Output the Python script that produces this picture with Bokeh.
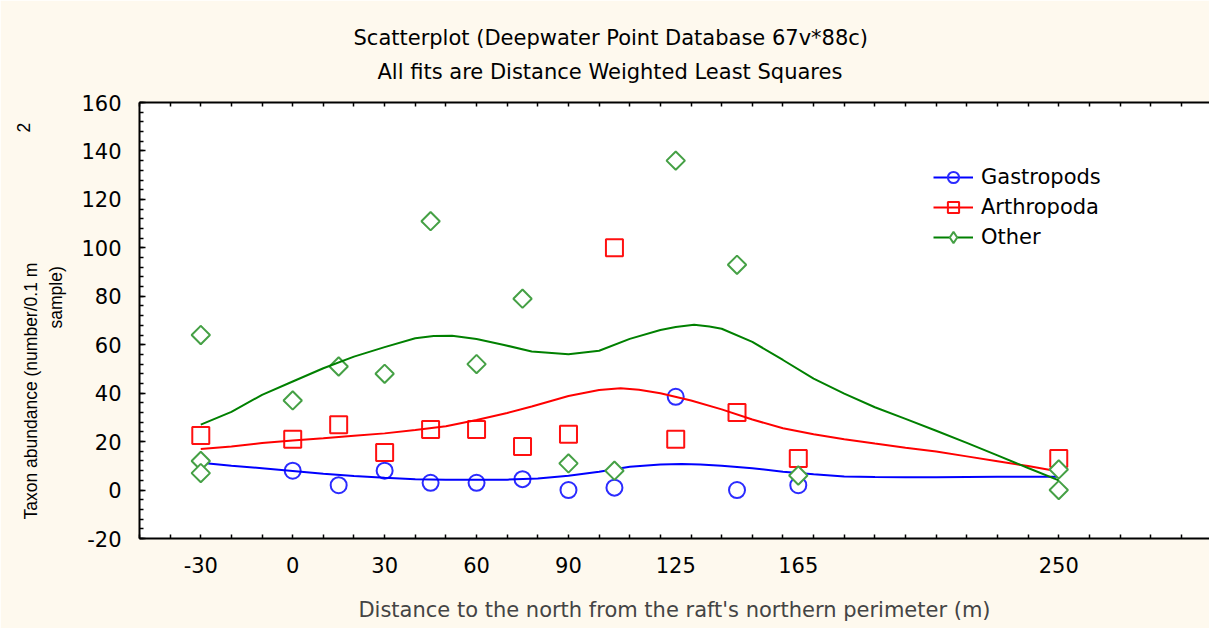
import numpy as np
from bokeh.plotting import figure
from bokeh.models import Range1d, LinearAxis, FixedTicker, Title, Legend, LegendItem
from bokeh.embed import file_html
from bokeh.resources import INLINE

# ---- observations -------------------------------------------------------
gastro_x = [0, 15, 30, 45, 60, 75, 90, 105, 125, 145, 165]
gastro_y = [8, 2, 8, 3, 3, 4.5, 0, 1, 38.5, 0, 2]

arthro_x = [-30, 0, 15, 30, 45, 60, 75, 90, 105, 125, 145, 165, 250]
arthro_y = [22.5, 21, 27, 15.5, 25, 25, 18, 23, 100, 21, 32, 13, 13]

other_x = [-30, -30, -30, 0, 15, 30, 45, 60, 75, 90, 105, 125, 145, 165, 250, 250]
other_y = [64, 12, 7, 37, 51, 48, 111, 52, 79, 11, 8, 136, 93, 6, 8.5, 0]

# ---- distance weighted least squares fits (sampled along x) --------------
gastro_fit_x = [-30, -20, -10, 0, 10, 20, 30, 40, 50, 60, 70, 80, 90, 100, 110,
                120, 127, 133, 140, 150, 160, 170, 180, 190, 200, 210, 220, 230, 240, 250]
gastro_fit_y = [11.3, 10.0, 9.0, 7.9, 6.7, 5.8, 5.1, 4.5, 4.3, 4.3, 4.3, 4.8, 5.9, 7.6, 9.6,
                10.5, 10.8, 10.6, 10.0, 9.0, 7.6, 6.5, 5.6, 5.4, 5.3, 5.3, 5.4, 5.5, 5.5, 5.5]

arthro_fit_x = [-30, -20, -10, 0, 10, 20, 30, 40, 50, 60, 70, 78, 90, 100, 107, 113,
                120, 130, 140, 150, 160, 170, 180, 190, 200, 210, 220, 230, 240, 250]
arthro_fit_y = [16.9, 18.0, 19.4, 20.5, 21.4, 22.4, 23.4, 24.8, 26.3, 28.9, 31.8, 34.5, 38.8, 41.3, 42.0, 41.4,
                40.0, 37.0, 33.3, 29.1, 25.5, 23.0, 21.0, 19.2, 17.5, 15.9, 13.9, 11.9, 9.9, 7.7]

other_fit_x = [-30, -20, -10, 0, 10, 20, 30, 40, 46, 52, 60, 69, 78, 90, 100, 110,
               120, 125, 131, 136, 140, 150, 160, 170, 180, 190, 200, 210, 220, 230, 240, 250]
other_fit_y = [27.0, 32.3, 39.3, 44.8, 50.3, 55.1, 59.0, 62.7, 63.6, 63.7, 62.4, 59.9, 57.2, 56.1, 57.5, 62.4,
               66.1, 67.3, 68.2, 67.5, 66.6, 61.2, 53.7, 46.0, 39.8, 34.2, 29.4, 24.5, 19.5, 14.3, 9.1, 4.0]

x_tick_labels = [-30, 0, 30, 60, 90, 125, 165, 250]
x_grid = [0, 50, 100, 150, 200, 250]
x_minor = list(range(-50, 300, 10))
y_ticks = list(range(-20, 161, 20))
y_minor = list(range(-20, 161, 4))

series_names = ["Gastropods", "Arthropoda", "Other"]

title_1 = "Scatterplot (Deepwater Point Database 67v*88c)"
title_2 = "All fits are Distance Weighted Least Squares"
x_title = "Distance to the north from the raft's northern perimeter (m)"
y_title_1 = "Taxon abundance (number/0.1 m"
y_title_exp = "2"
y_title_2 = "sample)"

# ---- styling -----------------------------------------------------------
CREAM = "#FEF9EE"
FONT = "DejaVu Sans"
FS = "21px"
YF = "Liberation Sans"
YFS = "17.5px"

p = figure(width=1209, height=628, output_backend="svg", toolbar_location=None,
           x_range=Range1d(-50, 299.2), y_range=Range1d(-20, 160),
           x_axis_type=None, y_axis_type=None,
           min_border_left=139, min_border_right=0, min_border_top=102, min_border_bottom=90)
p.border_fill_color = CREAM
p.background_fill_color = "white"
p.outline_line_color = None


def style_axis(ax):
    ax.axis_line_color = "black"
    ax.axis_line_width = 2
    ax.major_tick_line_color = "black"
    ax.minor_tick_line_color = "black"
    ax.major_tick_line_width = 1.5
    ax.minor_tick_line_width = 1.5
    ax.major_tick_out = 0
    ax.minor_tick_out = 0
    ax.major_tick_in = 6
    ax.minor_tick_in = 4
    ax.major_label_text_font = FONT
    ax.major_label_text_font_size = FS
    ax.major_label_text_color = "black"
    ax.axis_label_text_font = FONT
    ax.axis_label_text_font_size = FS
    ax.axis_label_text_font_style = "normal"


def plain_minus(ticks):
    return {t: str(t) for t in ticks if t < 0}


# bottom axis: labels at sampling distances, minor ticks every 10 m
xb = LinearAxis(ticker=FixedTicker(ticks=x_tick_labels, minor_ticks=x_minor))
style_axis(xb)
xb.major_tick_in = 0
xb.major_label_standoff = 18
xb.major_label_overrides = plain_minus(x_tick_labels)
xb.axis_label = x_title
xb.axis_label_standoff = 22
p.add_layout(xb, "below")

# top axis: tick marks only
xt = LinearAxis(ticker=FixedTicker(ticks=[], minor_ticks=x_minor))
style_axis(xt)
xt.major_label_standoff = 0
p.add_layout(xt, "above")

# left axis
yl = LinearAxis(ticker=FixedTicker(ticks=y_ticks, minor_ticks=y_minor))
style_axis(yl)
yl.major_label_standoff = 18
yl.major_label_overrides = plain_minus(y_ticks)
p.add_layout(yl, "left")

# grid
p.xgrid.ticker = FixedTicker(ticks=x_grid)
p.ygrid.ticker = FixedTicker(ticks=y_ticks)
for g in (p.xgrid, p.ygrid):
    g.grid_line_color = "#BDBDBD"
    g.grid_line_dash = "2 2"
    g.grid_line_width = 1

# ---- series ------------------------------------------------------------
c_pts = p.scatter(gastro_x, gastro_y, marker="circle", size=16, line_color="#2B2BFF",
                  line_width=2, fill_color=None)
c_fit = p.line(gastro_fit_x, gastro_fit_y, line_color="#0000FF", line_width=2)

s_pts = p.scatter(arthro_x, arthro_y, marker="square", size=17, line_color="#FF1010",
                  line_width=2, fill_color=None)
s_fit = p.line(arthro_fit_x, arthro_fit_y, line_color="#FF0000", line_width=2)

# legend swatch for the diamonds (legend glyphs ignore marker rotation);
# it sits underneath the first white-filled diamond
d_key = p.scatter(other_x[:1], other_y[:1], marker="diamond", size=18, line_color="#45A045",
                  line_width=2, fill_color="white")
d_pts = p.scatter(other_x, other_y, marker="square", angle=np.pi / 4, size=13,
                  line_color="#45A045", line_width=2, fill_color="white")
d_fit = p.line(other_fit_x, other_fit_y, line_color="#008000", line_width=2)

legend = Legend(items=[
    LegendItem(label=series_names[0], renderers=[c_fit, c_pts]),
    LegendItem(label=series_names[1], renderers=[s_fit, s_pts]),
    LegendItem(label=series_names[2], renderers=[d_fit, d_key]),
], location=(794, 287))
legend.glyph_width = 40
legend.glyph_height = 28
legend.label_standoff = 8
legend.spacing = 2
legend.padding = 0
legend.margin = 0
legend.border_line_color = None
legend.background_fill_alpha = 0
legend.label_text_font = FONT
legend.label_text_font_size = FS
legend.label_text_color = "black"
p.add_layout(legend, "center")

# ---- titles ------------------------------------------------------------
for txt, off, so in ((title_2, 238, 38), (title_1, 214, -22)):
    p.add_layout(Title(text=txt, align="left", offset=off, text_font=FONT, text_font_size=FS,
                       text_font_style="normal", text_color="black", standoff=so), "above")

# y axis title: rotated lines with a raised exponent
for txt, off, so in ((y_title_2, 210, 25), (y_title_1, 19, -18), (y_title_exp, 406, -4)):
    p.add_layout(Title(text=txt, align="left", offset=off, text_font=YF, text_font_size=YFS,
                       text_font_style="normal", text_color="black", standoff=so), "left")

open("out.html", "w").write(file_html(p, INLINE))
